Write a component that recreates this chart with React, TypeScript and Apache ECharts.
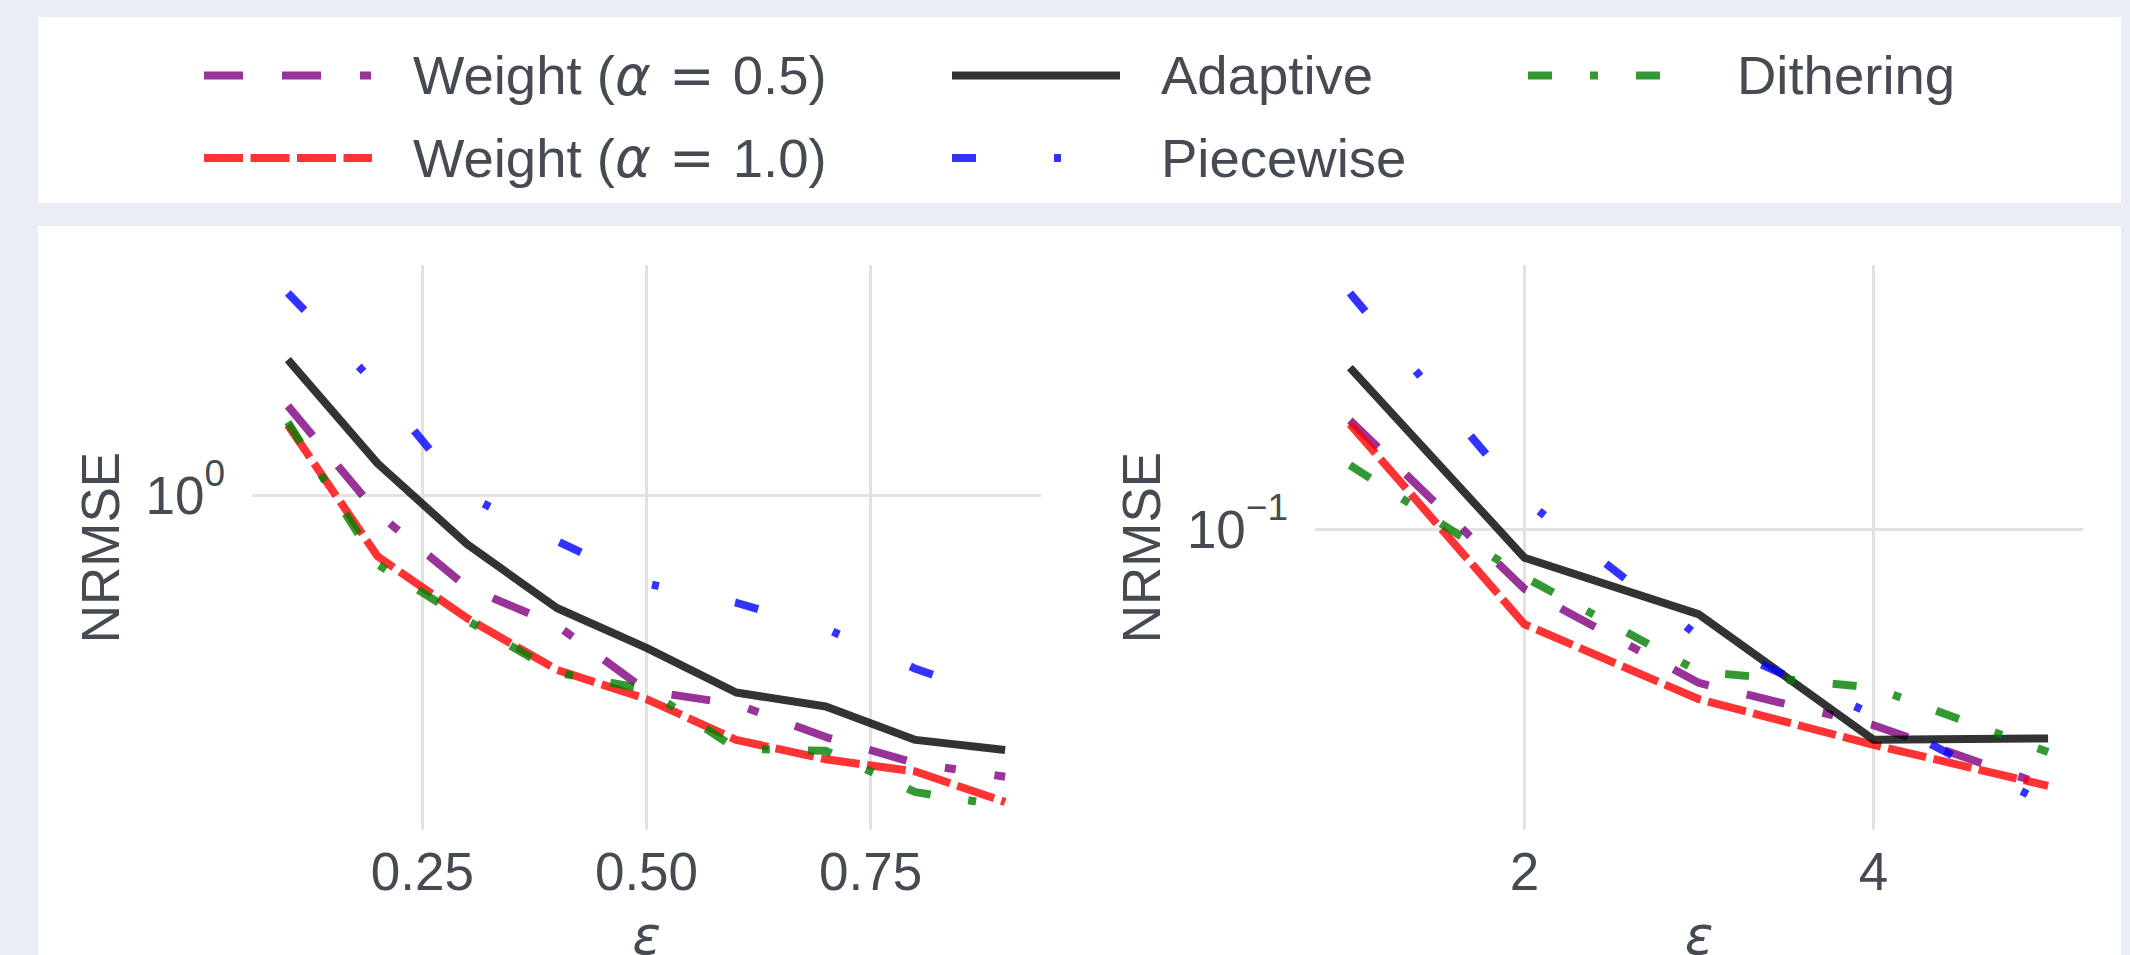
import React, { useEffect, useRef } from 'react';
import * as echarts from 'echarts';

// ---- data ----
const seriesNames = ['Weight (α = 0.5)', 'Weight (α = 1.0)', 'Adaptive', 'Piecewise', 'Dithering'];

const epsSmall = [0.1, 0.2, 0.3, 0.4, 0.5, 0.6, 0.7, 0.8, 0.9];
const weight05Small = [1.663, 0.903, 0.593, 0.478, 0.329, 0.305, 0.253, 0.218, 0.202];
const weight10Small = [1.491, 0.707, 0.497, 0.371, 0.314, 0.249, 0.223, 0.208, 0.175];
const adaptiveSmall = [2.163, 1.199, 0.757, 0.527, 0.42, 0.326, 0.301, 0.249, 0.235];
const piecewiseSmall = [3.159, 1.862, 1.0, 0.771, 0.606, 0.543, 0.469, 0.373, 0.312];
const ditheringSmall = [1.515, 0.675, 0.491, 0.365, 0.332, 0.237, 0.234, 0.185, 0.171];

const epsLarge = [1, 2, 3, 4, 5];
const weight05Large = [0.1606, 0.0772, 0.0513, 0.0427, 0.0327];
const weight10Large = [0.158, 0.0662, 0.0478, 0.0392, 0.0328];
const adaptiveLarge = [0.2019, 0.0884, 0.0691, 0.0401, 0.0403];
const piecewiseLarge = [0.2792, 0.1138, 0.0627, 0.0447, 0.0302];
const ditheringLarge = [0.1321, 0.0813, 0.0539, 0.0503, 0.038];

const xTicksSmall = [0.25, 0.5, 0.75];
const xTicksLarge = [2, 4];
const yTicksSmall = [1];
const yTicksLarge = [0.1];

// axis limits
const xRangeSmall = [0.06, 0.94];
const xRangeLarge = [0.8, 5.2];
const yRangeSmall = [0.1492, 3.703];
const yRangeLarge = [0.02708, 0.3153];

// ---- styles ----
const FONT = "'Liberation Sans', Arial, sans-serif";
const MATH = "'DejaVu Sans', sans-serif";
const TEXT = '#464a52';
const GRID = '#e4e1de';
const BG = '#eaedf5';

const lineStyles = [
  { color: '#800080', dash: [39, 39, 39, 39, 11, 39] },
  { color: '#ff0000', dash: [39, 7.5] },
  { color: '#000000', dash: 'solid' },
  { color: '#0000ff', dash: [24, 78, 7, 78] },
  { color: '#008000', dash: [24, 38, 8, 38] },
];

const smallData = [weight05Small, weight10Small, adaptiveSmall, piecewiseSmall, ditheringSmall];
const largeData = [weight05Large, weight10Large, adaptiveLarge, piecewiseLarge, ditheringLarge];

const legendSpots = [
  { left: 200, top: 45.5 },
  { left: 200, top: 128 },
  { left: 948, top: 45.5 },
  { left: 948, top: 128 },
  { left: 1524, top: 45.5 },
];

function powLabel(v: number) {
  const e = Math.round(Math.log10(v));
  const s = e < 0 ? '\u2212' + String(-e) : String(e);
  return '{b|10}{s|' + s + '}';
}

const powRich = {
  b: { fontSize: 53, fontFamily: FONT, color: TEXT, lineHeight: 53, verticalAlign: 'bottom' },
  s: { fontSize: 37, fontFamily: FONT, color: TEXT, lineHeight: 20, verticalAlign: 'bottom', padding: [0, 0, 30, 0] },
};

function xAxis(grid: number, range: number[], ticks: number[], fmt: (v: number) => string) {
  return {
    type: 'value',
    gridIndex: grid,
    min: range[0],
    max: range[1],
    axisLine: { show: false },
    axisTick: { show: false, customValues: ticks },
    axisLabel: {
      customValues: ticks,
      formatter: fmt,
      margin: 15,
      fontSize: 53,
      lineHeight: 53,
      fontFamily: FONT,
      color: TEXT,
    },
    splitLine: { show: true, lineStyle: { color: GRID, width: 3 } },
    name: 'ε',
    nameLocation: 'middle',
    nameGap: 79,
    nameTextStyle: { fontSize: 53, lineHeight: 53, fontFamily: MATH, fontStyle: 'italic', color: TEXT },
  };
}

function yAxis(grid: number, range: number[], ticks: number[], gap: number) {
  return {
    type: 'log',
    logBase: 10,
    gridIndex: grid,
    min: range[0],
    max: range[1],
    axisLine: { show: false },
    axisTick: { show: false, customValues: ticks },
    axisLabel: {
      customValues: ticks,
      formatter: powLabel,
      margin: 27,
      rich: powRich,
    },
    splitLine: { show: true, lineStyle: { color: GRID, width: 3 } },
    name: 'NRMSE',
    nameLocation: 'middle',
    nameRotate: 90,
    nameGap: gap,
    nameTextStyle: { fontSize: 53, lineHeight: 53, fontFamily: FONT, color: TEXT },
  };
}

function legendFormatter(name: string) {
  const body = name.replace('α = ', '{a|α} {e|=} ');
  return '{g| }' + body;
}

function buildOption() {
  const series: any[] = [];
  [
    { grid: 0, eps: epsSmall, data: smallData },
    { grid: 1, eps: epsLarge, data: largeData },
  ].forEach((panel) => {
    panel.data.forEach((vals, i) => {
      const st = lineStyles[i];
      series.push({
        type: 'line',
        name: seriesNames[i],
        xAxisIndex: panel.grid,
        yAxisIndex: panel.grid,
        data: panel.eps.map((e, j) => [e, vals[j]]),
        symbol: 'none',
        showSymbol: false,
        itemStyle: { color: st.color },
        lineStyle: { color: st.color, width: 8, type: st.dash, opacity: 0.8, cap: 'butt', join: 'round' },
        emphasis: { disabled: true },
        silent: true,
      });
    });
  });

  const legends = seriesNames.map((name, i) => ({
    data: [name],
    left: legendSpots[i].left,
    top: legendSpots[i].top,
    padding: 0,
    itemGap: 0,
    itemWidth: 168,
    itemHeight: 8,
    selectedMode: false,
    formatter: legendFormatter,
    itemStyle: { opacity: 0 },
    lineStyle: { width: 8 },
    textStyle: {
      fontSize: 54.5,
      lineHeight: 60,
      fontFamily: FONT,
      color: TEXT,
      rich: {
        g: { width: 36, lineHeight: 60, fontSize: 54.5 },
        a: { fontFamily: MATH, fontStyle: 'italic', fontSize: 54.5, lineHeight: 60, color: TEXT },
        e: { fontFamily: MATH, fontSize: 54.5, lineHeight: 60, color: TEXT, padding: [0, 3, 0, 3] },
      },
    },
  }));

  return {
    animation: false,
    backgroundColor: '#ffffff',
    graphic: [
      { type: 'rect', shape: { x: 0, y: 0, width: 2130, height: 17 }, style: { fill: BG }, silent: true },
      { type: 'rect', shape: { x: 0, y: 203, width: 2130, height: 23 }, style: { fill: BG }, silent: true },
      { type: 'rect', shape: { x: 0, y: 0, width: 38, height: 955 }, style: { fill: BG }, silent: true },
      { type: 'rect', shape: { x: 2121, y: 0, width: 9, height: 955 }, style: { fill: BG }, silent: true },
    ],
    legend: legends,
    grid: [
      { left: 252, top: 265, width: 789, height: 565, containLabel: false, outerBoundsMode: 'none' },
      { left: 1315, top: 265, width: 768, height: 565, containLabel: false, outerBoundsMode: 'none' },
    ],
    xAxis: [
      xAxis(0, xRangeSmall, xTicksSmall, (v: number) => v.toFixed(2)),
      xAxis(1, xRangeLarge, xTicksLarge, (v: number) => String(v)),
    ],
    yAxis: [yAxis(0, yRangeSmall, yTicksSmall, 125.5), yAxis(1, yRangeLarge, yTicksLarge, 147.5)],
    series,
  };
}

export default function App() {
  const ref = useRef<HTMLDivElement>(null);
  useEffect(() => {
    if (!ref.current) return;
    const chart = echarts.init(ref.current, undefined, { renderer: 'svg' });
    chart.setOption(buildOption() as any);
    return () => chart.dispose();
  }, []);
  return (
    <div
      ref={ref}
      style={{ position: 'fixed', left: 0, top: 0, width: 2130, height: 955 }}
    />
  );
}
